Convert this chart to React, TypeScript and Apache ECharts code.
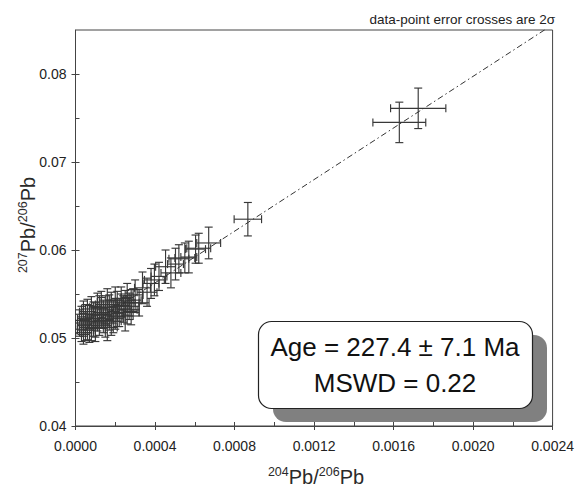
import React, { useEffect, useRef } from "react";
import * as echarts from "echarts";

// 204Pb/206Pb values
const isoX = [
  0.00003, 0.00003, 0.00004, 0.00004, 0.00005, 0.00005, 0.00006, 0.00006, 0.00007, 0.00008,
  0.00008, 0.00009, 0.0001, 0.0001, 0.00011, 0.00011, 0.00012, 0.00013, 0.00013, 0.00014,
  0.00015, 0.00015, 0.00016, 0.00017, 0.00017, 0.00018, 0.00019, 0.0002, 0.0002, 0.00021,
  0.00022, 0.00023, 0.00024, 0.00025, 0.00025, 0.00026, 0.00027, 0.00028, 0.00029,
  0.00002, 0.00004, 0.00006, 0.00007, 0.00009, 0.0001, 0.00012, 0.00014, 0.00016, 0.00018,
  0.00019, 0.00021, 0.00023, 0.00026, 0.00028,
  0.0003, 0.00032, 0.000337, 0.00036, 0.00038, 0.000397, 0.00042, 0.000453, 0.00048, 0.000503,
  0.00052, 0.00055, 0.00057, 0.000604, 0.00062, 0.00067, 0.000867, 0.001629, 0.001724,
];
// 207Pb/206Pb values
const isoY = [
  0.051, 0.052, 0.0515, 0.0527, 0.0509, 0.0521, 0.053, 0.0514, 0.0524, 0.0512,
  0.0533, 0.0519, 0.0527, 0.0511, 0.0535, 0.0522, 0.0516, 0.0529, 0.0538, 0.052,
  0.0532, 0.0514, 0.0541, 0.0526, 0.0535, 0.0519, 0.053, 0.0543, 0.0524, 0.0536,
  0.0529, 0.0545, 0.0533, 0.054, 0.0525, 0.0546, 0.0536, 0.0529, 0.0543,
  0.0517, 0.0506, 0.0522, 0.0509, 0.0526, 0.0518, 0.0534, 0.0527, 0.0512, 0.0538,
  0.0522, 0.0528, 0.0537, 0.0532, 0.054,
  0.0549, 0.054, 0.0557, 0.0552, 0.0562, 0.0566, 0.057, 0.0581, 0.0574, 0.0584,
  0.059, 0.0591, 0.0592, 0.0601, 0.0602, 0.0608, 0.0635, 0.0745, 0.0761,
];
// 2-sigma errors (half-widths)
const errX = [
  0.00003, 0.00004, 0.00003, 0.00005, 0.00004, 0.00003, 0.00004, 0.00005, 0.00003, 0.00004,
  0.00005, 0.00003, 0.00004, 0.00005, 0.00004, 0.00003, 0.00005, 0.00004, 0.00003, 0.00005,
  0.00004, 0.00003, 0.00005, 0.00004, 0.00004, 0.00005, 0.00003, 0.00004, 0.00005, 0.00004,
  0.00003, 0.00005, 0.00004, 0.00005, 0.00004, 0.00003, 0.00005, 0.00004, 0.00004,
  0.00002, 0.00004, 0.00005, 0.00003, 0.00004, 0.00006, 0.00004, 0.00003, 0.00005, 0.00004,
  0.00005, 0.00003, 0.00004, 0.00005, 0.00004,
  0.00004, 0.00005, 0.00004, 0.00005, 0.00004, 0.00005, 0.00004, 0.00005, 0.00005, 0.00004,
  0.00005, 0.00005, 0.00004, 0.00005, 0.00006, 0.00006, 0.000069, 0.000133, 0.000139,
];
const errY = [
  0.0014, 0.0016, 0.0013, 0.0015, 0.0012, 0.0017, 0.0014, 0.0016, 0.0013, 0.0015,
  0.0014, 0.0017, 0.0013, 0.0015, 0.0016, 0.0014, 0.0013, 0.0017, 0.0015, 0.0014,
  0.0016, 0.0013, 0.0015, 0.0017, 0.0014, 0.0016, 0.0013, 0.0015, 0.0014, 0.0017,
  0.0016, 0.0013, 0.0015, 0.0014, 0.0017, 0.0016, 0.0015, 0.0014, 0.0013,
  0.0015, 0.0013, 0.0016, 0.0014, 0.0015, 0.0017, 0.0014, 0.0016, 0.0015, 0.0014,
  0.0016, 0.0015, 0.0013, 0.0016, 0.0015,
  0.0017, 0.0015, 0.0018, 0.0016, 0.0017, 0.0018, 0.0016, 0.0019, 0.0017, 0.0018,
  0.0016, 0.0017, 0.0018, 0.0016, 0.0017, 0.0018, 0.0019, 0.0023, 0.0023,
];

// regression (isochron) line end points
const fitLine = [
  [0, 0.0504],
  [0.0024, 0.0856],
];

const xMajorTicks = [0, 0.0004, 0.0008, 0.0012, 0.0016, 0.002, 0.0024];
const xAllTicks = [0, 0.0002, 0.0004, 0.0006, 0.0008, 0.001, 0.0012, 0.0014, 0.0016, 0.0018, 0.002, 0.0022, 0.0024];
const yMajorTicks = [0.04, 0.05, 0.06, 0.07, 0.08];
const yAllTicks = [0.04, 0.045, 0.05, 0.055, 0.06, 0.065, 0.07, 0.075, 0.08];

const titleText = "data-point error crosses are 2σ";
const ageText = "Age = 227.4 ± 7.1 Ma";
const mswdText = "MSWD = 0.22";
// axis title pieces: [text, isSuperscript]
const xTitleParts: [string, boolean][] = [["204", true], ["Pb/", false], ["206", true], ["Pb", false]];
const yTitleParts: [string, boolean][] = [["207", true], ["Pb/", false], ["206", true], ["Pb", false]];

const FONT = "'Liberation Sans', Arial, Helvetica, sans-serif";
const MAIN_SIZE = 20;
const SUP_SIZE = 12.5;

function buildTitle(parts: [string, boolean][], cx: number, cy: number, rotation: number) {
  const canvas = document.createElement("canvas");
  const ctx = canvas.getContext("2d")!;
  const widths = parts.map(([t, sup]) => {
    ctx.font = `${sup ? SUP_SIZE : MAIN_SIZE}px ${FONT}`;
    return ctx.measureText(t).width;
  });
  const total = widths.reduce((a, b) => a + b, 0);
  let off = -total / 2;
  const children = parts.map(([t, sup], i) => {
    const el = {
      type: "text",
      x: off,
      y: sup ? -5 : 0,
      style: {
        text: t,
        fontSize: sup ? SUP_SIZE : MAIN_SIZE,
        fontFamily: FONT,
        fill: "#2a2a2a",
        align: "left",
        verticalAlign: "middle",
      },
    };
    off += widths[i];
    return el;
  });
  return { type: "group", x: cx, y: cy, rotation, z: 100, children };
}

export default function App() {
  const ref = useRef<HTMLDivElement>(null);

  useEffect(() => {
    document.body.style.margin = "0";
    const chart = echarts.init(ref.current!, null, { renderer: "svg" });
    const crossData = isoX.map((x, i) => [x, isoY[i], errX[i], errY[i]]);
    const axisColor = "#444";
    const cap = 4;

    chart.setOption({
      animation: false,
      backgroundColor: "#fff",
      grid: {
        left: 75.5,
        right: 22,
        top: 30,
        bottom: 67,
        show: true,
        borderColor: axisColor,
        borderWidth: 1,
        backgroundColor: "transparent",
      },
      xAxis: [
        {
          type: "value",
          min: 0,
          max: 0.0024,
          position: "bottom",
          axisLine: { show: true, lineStyle: { color: axisColor, width: 1 } },
          axisTick: { show: true, inside: false, length: 4, customValues: xMajorTicks, lineStyle: { color: axisColor } },
          axisLabel: {
            customValues: xMajorTicks,
            formatter: (v: number) => v.toFixed(4),
            fontSize: 14,
            color: "#222",
            fontFamily: FONT,
            margin: 13,
          },
          splitLine: { show: false },
        },
        {
          type: "value",
          min: 0,
          max: 0.0024,
          position: "bottom",
          axisLine: { show: false },
          axisTick: { show: true, inside: true, length: 4, customValues: xAllTicks, lineStyle: { color: axisColor } },
          axisLabel: { show: false },
          splitLine: { show: false },
        },
      ],
      yAxis: [
        {
          type: "value",
          min: 0.04,
          max: 0.085,
          position: "left",
          axisLine: { show: true, lineStyle: { color: axisColor, width: 1 } },
          axisTick: { show: true, inside: false, length: 4, customValues: yMajorTicks, lineStyle: { color: axisColor } },
          axisLabel: {
            customValues: yMajorTicks,
            formatter: (v: number) => v.toFixed(2),
            fontSize: 14,
            color: "#222",
            fontFamily: FONT,
            margin: 9,
          },
          splitLine: { show: false },
        },
        {
          type: "value",
          min: 0.04,
          max: 0.085,
          position: "left",
          axisLine: { show: false },
          axisTick: { show: true, inside: true, length: 4, customValues: yAllTicks, lineStyle: { color: axisColor } },
          axisLabel: { show: false },
          splitLine: { show: false },
        },
      ],
      series: [
        {
          type: "line",
          data: fitLine,
          xAxisIndex: 0,
          yAxisIndex: 0,
          showSymbol: false,
          symbol: "none",
          clip: true,
          lineStyle: { color: "#333", width: 1, type: [6, 3, 1.5, 3] },
          z: 3,
          silent: true,
        },
        {
          type: "custom",
          xAxisIndex: 0,
          yAxisIndex: 0,
          data: crossData,
          clip: true,
          z: 2,
          renderItem: (params: any, api: any) => {
            const x = api.value(0);
            const y = api.value(1);
            const ex = api.value(2);
            const ey = api.value(3);
            const c = api.coord([x, y]);
            const l = api.coord([x - ex, y]);
            const r = api.coord([x + ex, y]);
            const t = api.coord([x, y + ey]);
            const b = api.coord([x, y - ey]);
            const style = { stroke: "#383838", lineWidth: 1.15, fill: null };
            const ln = (x1: number, y1: number, x2: number, y2: number) => ({
              type: "line",
              shape: { x1, y1, x2, y2 },
              style,
            });
            return {
              type: "group",
              children: [
                ln(l[0], c[1], r[0], c[1]),
                ln(c[0], t[1], c[0], b[1]),
                ln(l[0], c[1] - cap, l[0], c[1] + cap),
                ln(r[0], c[1] - cap, r[0], c[1] + cap),
                ln(c[0] - cap, t[1], c[0] + cap, t[1]),
                ln(c[0] - cap, b[1], c[0] + cap, b[1]),
              ],
            };
          },
        },
      ],
      graphic: [
        {
          type: "text",
          right: 22,
          top: 12,
          z: 100,
          style: { text: titleText, fontSize: 13.5, fontFamily: FONT, fill: "#222" },
        },
        buildTitle(xTitleParts, 316, 477, 0),
        buildTitle(yTitleParts, 28, 225, Math.PI / 2),
        {
          type: "rect",
          z: 100,
          shape: { x: 273, y: 335, width: 274, height: 87, r: 13 },
          style: { fill: "#808080" },
        },
        {
          type: "rect",
          z: 101,
          shape: { x: 258.5, y: 321.5, width: 274, height: 87, r: 13 },
          style: { fill: "#fff", stroke: "#222", lineWidth: 1.2 },
        },
        {
          type: "text",
          x: 395,
          y: 347,
          z: 102,
          style: {
            text: ageText,
            fontSize: 26,
            fontFamily: FONT,
            fill: "#111",
            align: "center",
            verticalAlign: "middle",
          },
        },
        {
          type: "text",
          x: 395,
          y: 383,
          z: 102,
          style: {
            text: mswdText,
            fontSize: 26,
            fontFamily: FONT,
            fill: "#111",
            align: "center",
            verticalAlign: "middle",
          },
        },
      ],
    });
    return () => chart.dispose();
  }, []);

  return <div ref={ref} style={{ width: 577, height: 493 }} />;
}
